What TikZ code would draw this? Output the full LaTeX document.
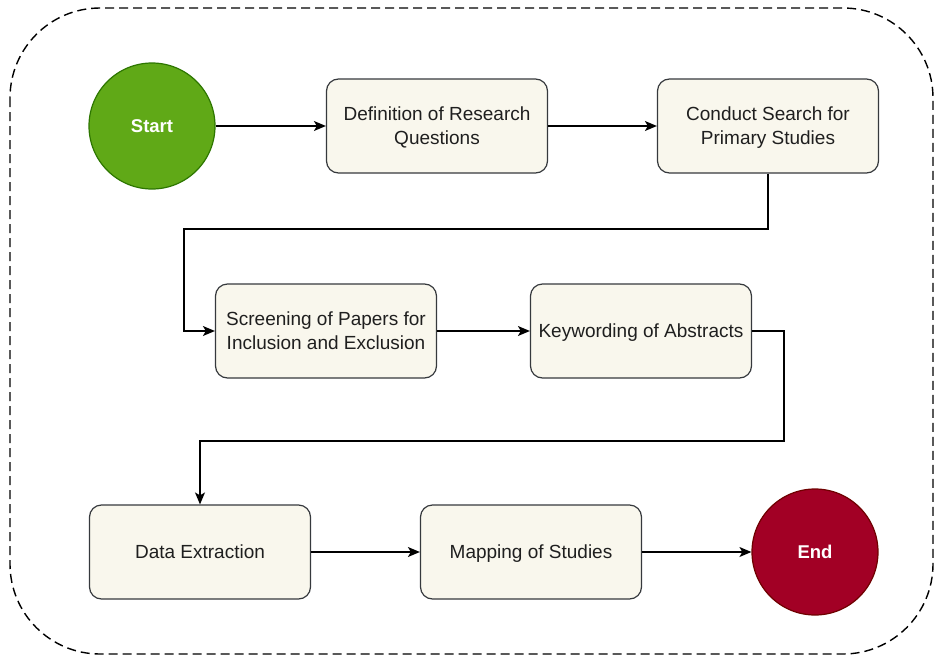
\documentclass[tikz,border=0pt]{standalone}
\usepackage{fontspec}
\setmainfont{Liberation Sans}
\usetikzlibrary{arrows.meta}
\definecolor{boxfill}{HTML}{F9F7ED}
\definecolor{boxdraw}{HTML}{36393D}
\definecolor{startfill}{HTML}{60A917}
\definecolor{startdraw}{HTML}{2D7600}
\definecolor{endfill}{HTML}{A20025}
\definecolor{enddraw}{HTML}{6F0000}
\tikzset{
  stepbox/.style={draw=boxdraw, fill=boxfill, line width=1.2pt, rounded corners=12pt,
    minimum width=221pt, minimum height=94pt, align=center, inner sep=2pt, text depth=0pt,
    font=\fontsize{19}{24}\selectfont, text=black!88},
  terminal/.style={circle, line width=1.2pt, minimum size=126pt, inner sep=0pt,
    text=white, font=\fontsize{18.5}{22}\selectfont\bfseries},
  flow/.style={line width=1.3pt, -{Stealth[length=12pt,width=10pt,inset=3pt]}},
}
\begin{document}
\begin{tikzpicture}[x=1pt,y=-1pt]
\useasboundingbox (0,0) rectangle (935,656);
\draw[line width=1.4pt, dash pattern=on 9pt off 5pt, rounded corners=90pt] (10,8) rectangle (933,654);
\node[terminal, fill=startfill, draw=startdraw] (start) at (152,126) {Start};
\node[stepbox] (def) at (437,126) {Definition of Research\\Questions};
\node[stepbox] (search) at (768,126) {Conduct Search for\\Primary Studies};
\node[stepbox] (screen) at (326,331) {Screening of Papers for\\Inclusion and Exclusion};
\node[stepbox] (key) at (641,331) {Keywording of Abstracts};
\node[stepbox] (data) at (200,552) {Data Extraction};
\node[stepbox] (map) at (531,552) {Mapping of Studies};
\node[terminal, fill=endfill, draw=enddraw] (end) at (815,552) {End};
\coordinate (c1) at (768,229);
\coordinate (c2) at (184,229);
\coordinate (c3) at (784,331);
\coordinate (c4) at (784,441);
\coordinate (c5) at (200,441);
\draw[flow] (start) -- (def);
\draw[flow] (def) -- (search);
\draw[flow] (search.south) -- (c1) -- (c2) |- (screen.west);
\draw[flow] (screen) -- (key);
\draw[flow] (key.east) -- (c3) -- (c4) -- (c5) -- (data.north);
\draw[flow] (data) -- (map);
\draw[flow] (map) -- (end);
\end{tikzpicture}
\end{document}
